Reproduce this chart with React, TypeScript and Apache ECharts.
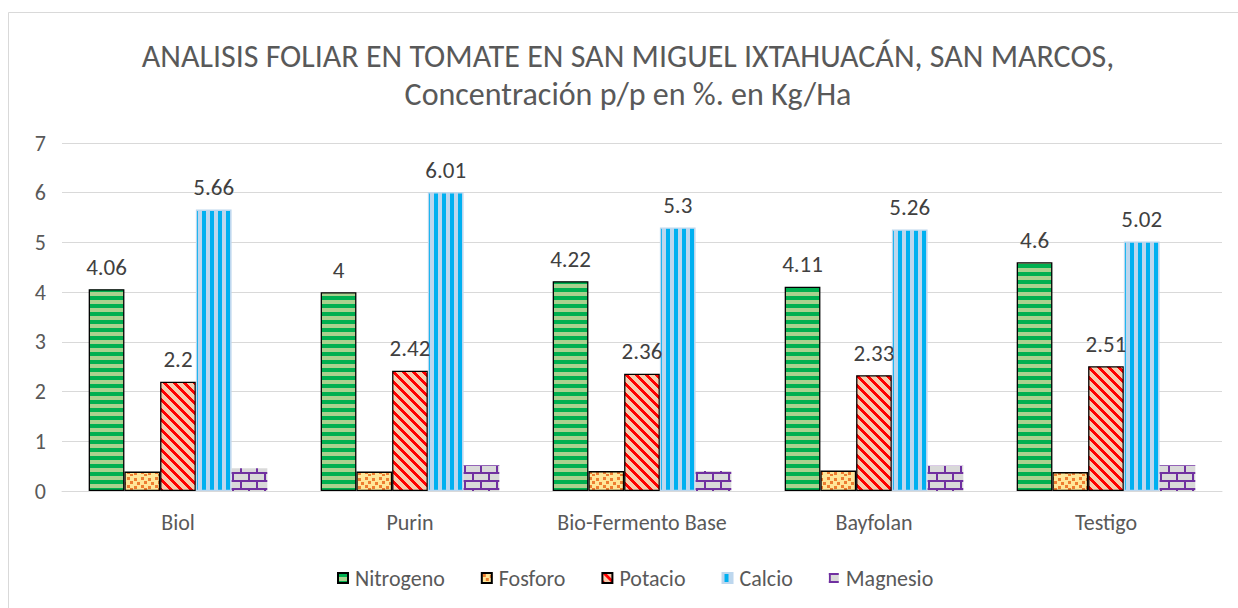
import React, { useEffect, useRef } from "react";
import * as echarts from "echarts";

const categories = ["Biol", "Purin", "Bio-Fermento Base", "Bayfolan", "Testigo"];
const nitrogeno = [4.06, 4, 4.22, 4.11, 4.6];
const fosforo = [0.39, 0.39, 0.4, 0.41, 0.38];
const potacio = [2.2, 2.42, 2.36, 2.33, 2.51];
const calcio = [5.66, 6.01, 5.3, 5.26, 5.02];
const magnesio = [0.46, 0.52, 0.4, 0.51, 0.52];
const yTicks = [0, 1, 2, 3, 4, 5, 6, 7];

const FONT = "Carlito, Lato, 'Open Sans', sans-serif";

function makeCanvas(w: number, h: number, draw: (ctx: CanvasRenderingContext2D) => void) {
  const c = document.createElement("canvas");
  c.width = w;
  c.height = h;
  const ctx = c.getContext("2d")!;
  draw(ctx);
  return c;
}

function patterns() {
  const nit = makeCanvas(8, 8, (ctx) => {
    ctx.fillStyle = "#A9D18E";
    ctx.fillRect(0, 0, 8, 8);
    ctx.fillStyle = "#00B050";
    ctx.fillRect(0, 0, 8, 4);
  });
  const fos = makeCanvas(14, 14, (ctx) => {
    ctx.fillStyle = "#FFE699";
    ctx.fillRect(0, 0, 14, 14);
    ctx.fillStyle = "#ED7D31";
    const sq = [
      [1, 1], [8, 2], [4, 5], [11, 6], [1, 9], [8, 10], [4, 12],
    ];
    sq.forEach(([x, y]) => ctx.fillRect(x, y, 3, 3));
  });
  const pot = makeCanvas(10, 10, (ctx) => {
    ctx.fillStyle = "#F8CBAD";
    ctx.fillRect(0, 0, 10, 10);
    ctx.fillStyle = "#FF0000";
    for (let y = 0; y < 10; y++) {
      for (let x = 0; x < 10; x++) {
        if ((((x - y) % 10) + 10) % 10 < 4) ctx.fillRect(x, y, 1, 1);
      }
    }
  });
  const cal = makeCanvas(8, 2, (ctx) => {
    ctx.fillStyle = "#BDD7EE";
    ctx.fillRect(0, 0, 8, 2);
    ctx.fillStyle = "#00B0F0";
    ctx.fillRect(2, 0, 4, 2);
  });
  const mag = makeCanvas(16, 16, (ctx) => {
    ctx.fillStyle = "#D9D9D9";
    ctx.fillRect(0, 0, 16, 16);
    ctx.fillStyle = "#7030A0";
    ctx.fillRect(0, 0, 16, 2);
    ctx.fillRect(0, 8, 16, 2);
    ctx.fillRect(0, 2, 2, 6);
    ctx.fillRect(8, 10, 2, 6);
  });
  const pat = (c: HTMLCanvasElement) => ({
    image: c,
    repeat: "repeat",
    imageWidth: c.width,
    imageHeight: c.height,
  });
  return { nit: pat(nit), fos: pat(fos), pot: pat(pot), cal: pat(cal), mag: pat(mag) };
}

export default function App() {
  const ref = useRef<HTMLDivElement>(null);
  useEffect(() => {
    if (!ref.current) return;
    const chart = echarts.init(ref.current, null, { renderer: "svg" });
    const p = patterns();
    const label = {
      show: true,
      position: "top",
      distance: 11,
      color: "#404040",
      fontSize: 23,
      fontFamily: FONT,
    };
    const mk = (name: string, data: number[], color: any, border: string | null, showLabel: boolean) => ({
      name,
      type: "bar",
      data,
      barGap: "0%",
      barCategoryGap: "23%",
      itemStyle: {
        color,
        borderColor: border ?? "transparent",
        borderWidth: border ? 1.3 : 0,
      },
      label: showLabel ? label : { show: false },
    });
    chart.setOption({
      animation: false,
      backgroundColor: "#ffffff",
      textStyle: { fontFamily: FONT },
      title: {
        text: "ANALISIS FOLIAR EN TOMATE EN SAN MIGUEL IXTAHUACÁN, SAN MARCOS,\nConcentración p/p en %. en Kg/Ha",
        left: 628,
        top: 37,
        padding: 0,
        textAlign: "center",
        textStyle: {
          fontSize: 32,
          fontWeight: "normal",
          color: "#595959",
          lineHeight: 38,
          fontFamily: FONT,
        },
      },
      graphic: [
        {
          type: "rect",
          shape: { x: 8.5, y: 12.5, width: 1260, height: 620 },
          style: { fill: "none", stroke: "#D9D9D9", lineWidth: 1 },
          silent: true,
        },
      ],
      grid: { left: 62, right: 16, top: 143, bottom: 117, containLabel: false },
      legend: {
        left: 332,
        top: 562,
        itemWidth: 10,
        itemHeight: 10,
        itemGap: 36,
        icon: "rect",
        textStyle: { fontSize: 22, color: "#595959", fontFamily: FONT, padding: [0, 0, 0, 2] },
        data: ["Nitrogeno", "Fosforo", "Potacio", "Calcio", "Magnesio"],
      },
      xAxis: {
        type: "category",
        data: categories,
        axisLine: { lineStyle: { color: "#D9D9D9", width: 1 } },
        axisTick: { show: false },
        axisLabel: { color: "#595959", fontSize: 22, margin: 20, fontFamily: FONT },
      },
      yAxis: {
        type: "value",
        min: yTicks[0],
        max: yTicks[yTicks.length - 1],
        interval: 1,
        axisLine: { show: false },
        axisTick: { show: false },
        splitLine: { lineStyle: { color: "#D9D9D9", width: 1 } },
        axisLabel: { color: "#595959", fontSize: 22, margin: 16, fontFamily: FONT },
      },
      series: [
        mk("Nitrogeno", nitrogeno, p.nit, "#000000", true),
        mk("Fosforo", fosforo, p.fos, "#000000", false),
        mk("Potacio", potacio, p.pot, "#000000", true),
        mk("Calcio", calcio, p.cal, "#BDD7EE", true),
        mk("Magnesio", magnesio, p.mag, null, false),
      ],
    });
    return () => chart.dispose();
  }, []);
  return (
    <div
      ref={ref}
      style={{ position: "absolute", left: 0, top: 0, width: 1238, height: 608 }}
    />
  );
}
